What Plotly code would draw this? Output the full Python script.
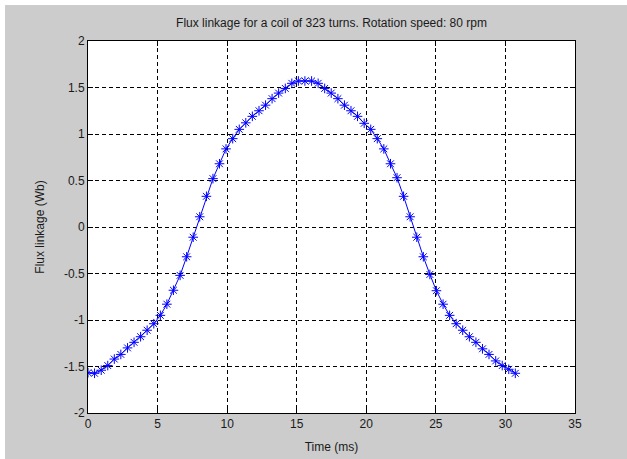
import plotly.graph_objects as go

time_ms = [0.00, 0.47, 0.95, 1.42, 1.89, 2.36, 2.84, 3.31, 3.78, 4.25, 4.73, 5.20,
           5.67, 6.14, 6.62, 7.09, 7.56, 8.03, 8.51, 8.98, 9.45, 9.92, 10.40, 10.87,
           11.34, 11.81, 12.29, 12.76, 13.23, 13.70, 14.18, 14.65, 15.12, 15.59, 16.07,
           16.54, 17.01, 17.48, 17.96, 18.43, 18.90, 19.37, 19.85, 20.32, 20.79, 21.26,
           21.74, 22.21, 22.68, 23.15, 23.63, 24.10, 24.57, 25.04, 25.52, 25.99, 26.46,
           26.93, 27.41, 27.88, 28.35, 28.82, 29.30, 29.77, 30.24, 30.71]
flux_wb = [-1.567, -1.573, -1.54, -1.49, -1.42, -1.37, -1.30, -1.24, -1.18, -1.11, -1.04,
           -0.95, -0.83, -0.68, -0.52, -0.32, -0.11, 0.11, 0.33, 0.52, 0.68, 0.84, 0.95,
           1.05, 1.12, 1.19, 1.25, 1.31, 1.38, 1.44, 1.49, 1.545, 1.57, 1.57, 1.57, 1.545,
           1.49, 1.44, 1.38, 1.31, 1.25, 1.19, 1.115, 1.05, 0.95, 0.84, 0.68, 0.53, 0.33,
           0.11, -0.11, -0.32, -0.51, -0.685, -0.83, -0.95, -1.04, -1.11, -1.18, -1.24,
           -1.31, -1.37, -1.44, -1.49, -1.53, -1.573]

x_ticks = [0, 5, 10, 15, 20, 25, 30, 35]
x_tick_labels = ["0", "5", "10", "15", "20", "25", "30", "35"]
y_ticks = [-2, -1.5, -1, -0.5, 0, 0.5, 1, 1.5, 2]
y_tick_labels = ["-2", "-1.5", "-1", "-0.5", "0", "0.5", "1", "1.5", "2"]

FONT = "Liberation Sans, Arial, sans-serif"
TXT = "#1a1a1a"

fig = go.Figure()
fig.add_trace(go.Scatter(
    x=time_ms, y=flux_wb, mode="lines+markers",
    line=dict(color="#0000ff", width=1),
    marker=dict(symbol="asterisk-open", size=8, color="#0000ff",
                line=dict(color="#0000ff", width=1)),
    showlegend=False,
))

axis_common = dict(
    showline=True, linecolor="black", linewidth=1, mirror="ticks",
    ticks="inside", ticklen=5, tickcolor="black", automargin=False,
    showgrid=True, gridcolor="black", gridwidth=1, griddash="4px,3px",
    zeroline=False, tickfont=dict(family=FONT, size=12, color=TXT),
)

fig.update_layout(
    width=627, height=459,
    margin=dict(l=88, r=52, t=41, b=46),
    paper_bgcolor="#cccccc", plot_bgcolor="white",
    title=dict(text="Flux linkage for a coil of 323 turns. Rotation speed: 80 rpm",
               x=0.5, xanchor="center", xref="paper", y=1 - 23 / 459, yanchor="middle",
               font=dict(family=FONT, size=12, color=TXT)),
    xaxis=dict(axis_common, range=[0, 35], tickvals=x_ticks, ticktext=x_tick_labels,
               title=dict(text="Time (ms)", standoff=12,
                          font=dict(family=FONT, size=12, color=TXT))),
    yaxis=dict(axis_common, range=[-2, 2], tickvals=y_ticks, ticktext=y_tick_labels,
               title=dict(text="Flux linkage (Wb)", standoff=16,
                          font=dict(family=FONT, size=12, color=TXT))),
    shapes=[
        dict(type="rect", xref="paper", yref="paper", x0=-0.3, x1=1.3,
             y0=(413 - 5) / 372, y1=1.3, fillcolor="white", line=dict(width=0), layer="below"),
        dict(type="rect", xref="paper", yref="paper", x0=-0.3, x1=(5 - 88) / 487,
             y0=-0.3, y1=1.3, fillcolor="white", line=dict(width=0), layer="below"),
    ],
)

fig.write_html("out.html", config={"displayModeBar": False},
               post_script="document.body.style.margin='0';document.body.style.overflow='hidden';")
